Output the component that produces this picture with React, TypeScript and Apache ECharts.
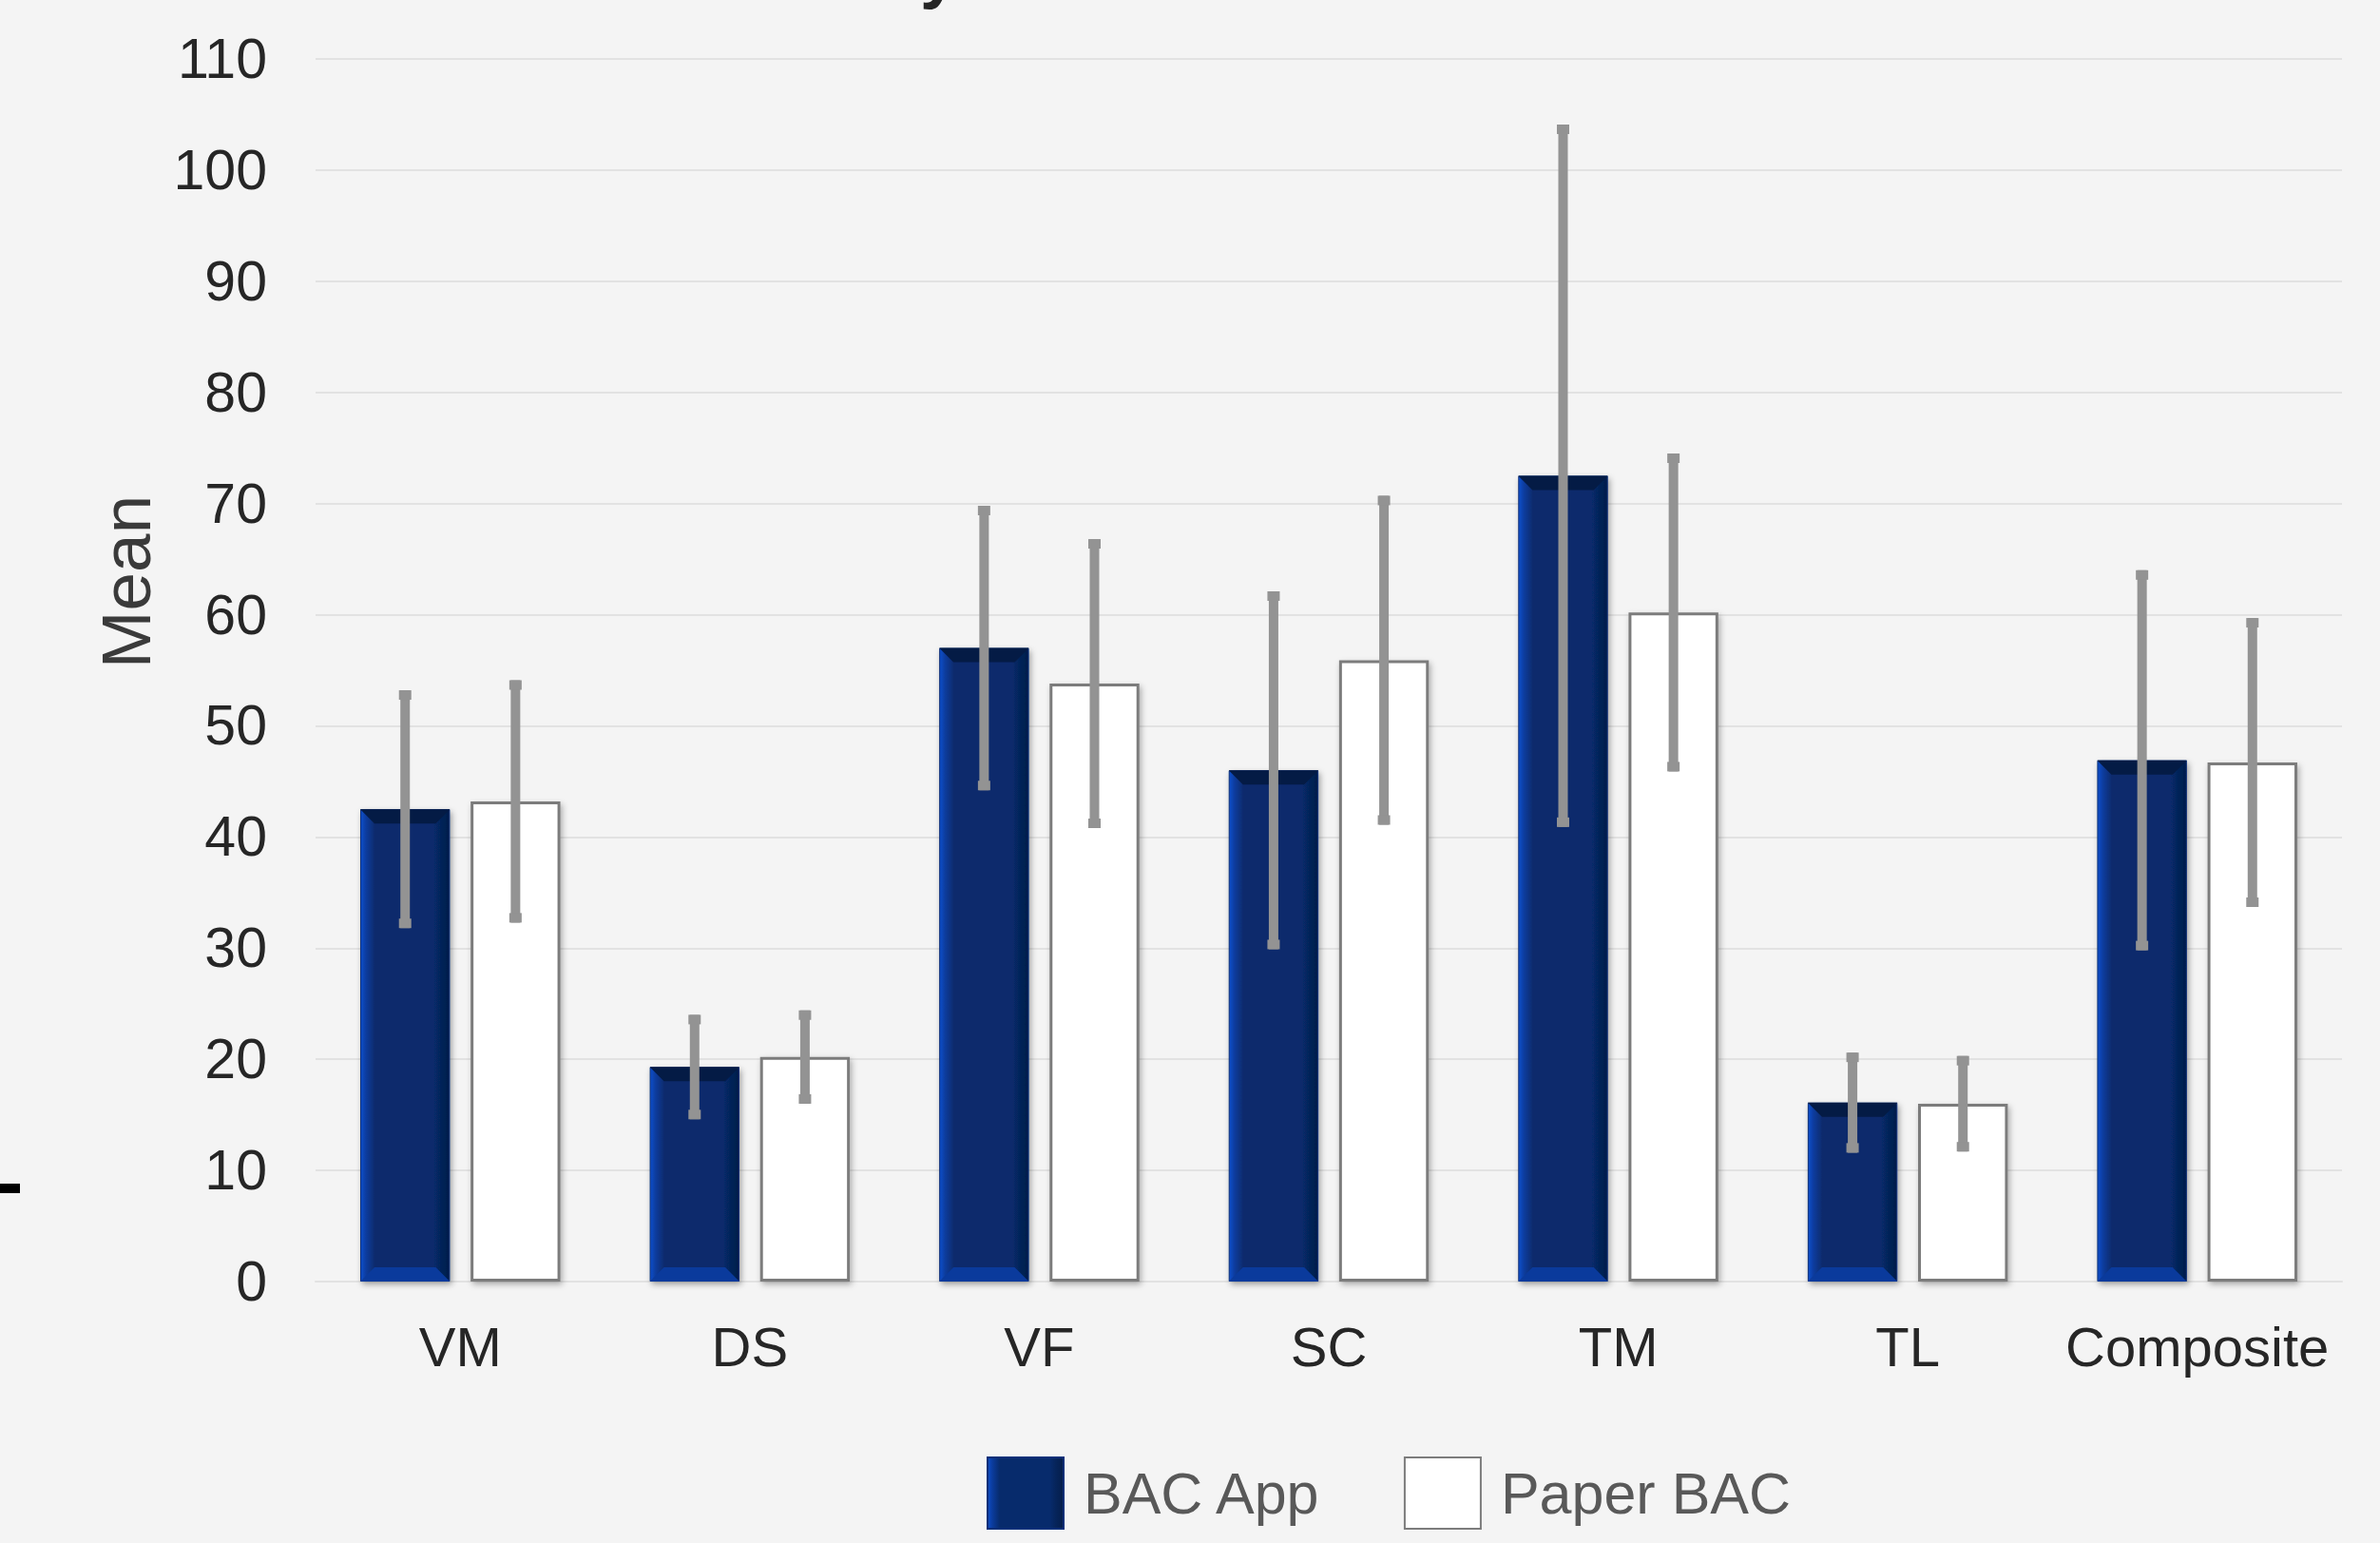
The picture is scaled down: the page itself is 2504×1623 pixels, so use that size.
import React, { useEffect, useRef } from "react";
import * as echarts from "echarts";

const categories = ["VM", "DS", "VF", "SC", "TM", "TL", "Composite"];
const appMeans = [42.5, 19.3, 57.0, 46.0, 72.5, 16.1, 46.9];
const appSD = [10.7, 4.7, 12.8, 16.1, 31.6, 4.5, 17.1];
const paperMeans = [43.2, 20.2, 53.8, 55.9, 60.2, 16.0, 46.7];
const paperSD = [10.9, 4.2, 13.0, 14.8, 14.3, 4.3, 13.0];
const seriesNames = ["BAC App", "Paper BAC"];
const yAxisTitle = "Mean";

const BAR_FRAC = 0.31;
const GAP_FRAC = 0.23;
const OFFSET = (BAR_FRAC * (1 + GAP_FRAC)) / 2;

export default function App() {
  const ref = useRef<HTMLDivElement>(null);
  useEffect(() => {
    if (!ref.current) return;
    const chart = echarts.init(ref.current, undefined, { renderer: "svg" });

    const blueGrad = new echarts.graphic.LinearGradient(0, 0, 1, 0, [
      { offset: 0, color: "#0f4fcc" },
      { offset: 0.06, color: "#0b3c9e" },
      { offset: 0.16, color: "#072b6c" },
      { offset: 0.82, color: "#072b6c" },
      { offset: 0.9, color: "#06245a" },
      { offset: 1, color: "#051d4a" },
    ]);

    const errData = (means: number[], sds: number[], sign: number) =>
      means.map((m, i) => [i, m, sds[i], sign]);
    const bevelData = appMeans.map((m, i) => [i, m]);

    const errRender = (params: any, api: any) => {
      const x = api.value(0);
      const mean = api.value(1);
      const sd = api.value(2);
      const sign = api.value(3);
      const catW = api.size([1, 0])[0];
      const top = api.coord([x, mean + sd]);
      const bot = api.coord([x, mean - sd]);
      const cx = top[0] + sign * catW * OFFSET;
      const fill = "#939393";
      return {
        type: "group",
        children: [
          { type: "rect", shape: { x: cx - 5, y: top[1], width: 10, height: bot[1] - top[1] }, style: { fill } },
          { type: "rect", shape: { x: cx - 6.5, y: top[1], width: 13, height: 10 }, style: { fill } },
          { type: "rect", shape: { x: cx - 6.5, y: bot[1] - 10, width: 13, height: 10 }, style: { fill } },
        ],
      };
    };

    const bevelRender = (params: any, api: any) => {
      const x = api.value(0);
      const v = api.value(1);
      const catW = api.size([1, 0])[0];
      const bw = catW * BAR_FRAC;
      const top = api.coord([x, v]);
      const base = api.coord([x, 0]);
      const cx = top[0] - catW * OFFSET;
      const x0 = cx - bw / 2;
      const x1 = cx + bw / 2;
      const b = 15;
      return {
        type: "group",
        children: [
          {
            type: "polygon",
            shape: { points: [[x0, top[1]], [x1, top[1]], [x1 - b, top[1] + b], [x0 + b, top[1] + b]] },
            style: { fill: "#041b45" },
          },
          {
            type: "polygon",
            shape: { points: [[x0, base[1]], [x1, base[1]], [x1 - b, base[1] - b], [x0 + b, base[1] - b]] },
            style: { fill: "#0a3a9c" },
          },
        ],
      };
    };

    chart.setOption({
      animation: false,
      backgroundColor: "#f4f4f4",
      textStyle: { fontFamily: "Liberation Sans, Arial, sans-serif" },
      grid: { left: 332, right: 40, top: 62, bottom: 275, containLabel: false },
      legend: {
        data: seriesNames,
        left: 1033,
        top: 1527,
        itemWidth: 80,
        itemHeight: 75,
        itemGap: 86,
        icon: "rect",
        textStyle: { fontSize: 61, color: "#595959", padding: [0, 0, 0, 16] },
      },
      xAxis: {
        type: "category",
        data: categories,
        axisLine: { show: true, lineStyle: { color: "#e2e2e2", width: 2 } },
        axisTick: { show: false },
        axisLabel: { fontSize: 58, color: "#262626", margin: 39, interval: 0 },
      },
      yAxis: {
        type: "value",
        min: 0,
        max: 110,
        interval: 10,
        axisLine: { show: false },
        axisTick: { show: false },
        axisLabel: { fontSize: 59, color: "#262626", margin: 51 },
        splitLine: { lineStyle: { color: "#e2e2e2", width: 2 } },
      },
      series: [
        {
          name: seriesNames[0],
          type: "bar",
          data: appMeans,
          barWidth: BAR_FRAC * 100 + "%",
          barGap: GAP_FRAC * 100 + "%",
          z: 2,
          itemStyle: {
            color: blueGrad,
            borderColor: "#0a2f78",
            borderWidth: 1,
            shadowColor: "rgba(0,0,0,0.35)",
            shadowBlur: 6,
            shadowOffsetX: 2,
            shadowOffsetY: 3,
          },
        },
        {
          name: seriesNames[1],
          type: "bar",
          data: paperMeans,
          barWidth: BAR_FRAC * 100 + "%",
          z: 2,
          itemStyle: {
            color: "#ffffff",
            borderColor: "#7c7c7c",
            borderWidth: 3,
            shadowColor: "rgba(0,0,0,0.3)",
            shadowBlur: 6,
            shadowOffsetX: 2,
            shadowOffsetY: 3,
          },
        },
        {
          type: "custom",
          renderItem: bevelRender,
          data: bevelData,
          z: 3,
          silent: true,
          encode: { x: 0, y: 1 },
        },
        {
          type: "custom",
          renderItem: errRender,
          data: errData(appMeans, appSD, -1),
          z: 4,
          silent: true,
          encode: { x: 0, y: 1 },
        },
        {
          type: "custom",
          renderItem: errRender,
          data: errData(paperMeans, paperSD, 1),
          z: 4,
          silent: true,
          encode: { x: 0, y: 1 },
        },
      ],
      graphic: [
        { type: "rect", shape: { x: 0, y: 1245, width: 21, height: 10 }, style: { fill: "#000000" } },
        {
          type: "text",
          x: 132,
          y: 612,
          rotation: Math.PI / 2,
          style: {
            text: yAxisTitle,
            fontSize: 73,
            fill: "#3a3a3a",
            fontFamily: "Liberation Sans, Arial, sans-serif",
            align: "center",
            verticalAlign: "middle",
          },
        },
        {
          type: "text",
          x: 968,
          y: 6,
          style: {
            text: "y",
            fontSize: 72,
            fontWeight: "bold",
            fill: "#262626",
            fontFamily: "Liberation Sans, Arial, sans-serif",
            verticalAlign: "bottom",
          },
        },
      ],
    });
    return () => chart.dispose();
  }, []);
  return (
    <div
      ref={ref}
      style={{ position: "fixed", left: 0, top: 0, width: 2504, height: 1623 }}
    />
  );
}
